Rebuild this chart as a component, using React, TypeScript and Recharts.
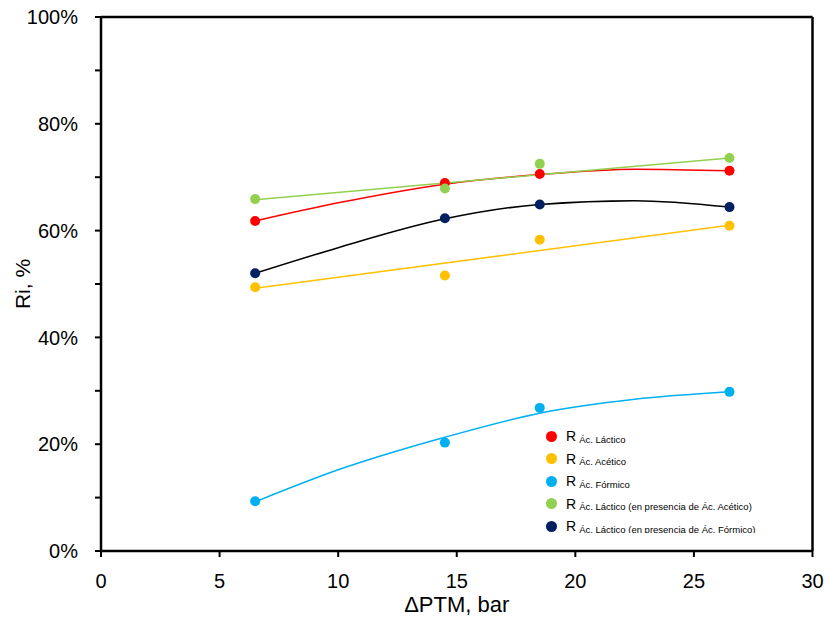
import React from 'react';
import { ComposedChart, Scatter, Line, XAxis, YAxis, ReferenceLine, Legend } from 'recharts';

const xValues = [6.5, 14.5, 18.5, 26.5];
const lacticoR = [61.8, 68.9, 70.6, 71.2];
const aceticoR = [49.4, 51.6, 58.3, 60.9];
const formicoR = [9.3, 20.3, 26.8, 29.8];
const lacticoAcetR = [65.9, 67.9, 72.5, 73.6];
const lacticoFormR = [52.0, 62.3, 64.9, 64.4];

const curveX = [6.5, 10, 14.5, 18.5, 22.5, 26.5];
const lacticoTrend = [61.8, 65.2, 68.7, 70.5, 71.5, 71.2];
const formicoTrend = [9.2, 15.2, 21.3, 25.8, 28.4, 29.8];
const lacticoFormTrend = [52.0, 56.8, 62.2, 64.9, 65.6, 64.4];
const lineX = [6.5, 26.5];
const aceticoTrend = [49.2, 61.0];
const lacticoAcetTrend = [65.8, 73.6];

const xTicks = [0, 5, 10, 15, 20, 25, 30];
const yTicks = [0, 10, 20, 30, 40, 50, 60, 70, 80, 90, 100];

const seriesNames = [
  'Ác. Láctico',
  'Ác. Acético',
  'Ác. Fórmico',
  'Ác. Láctico (en presencia de Ác. Acético)',
  'Ác. Láctico (en presencia de Ác. Fórmico)',
];
const seriesColors = ['#FF0000', '#FFC000', '#00B0F0', '#92D050', '#002060'];
const seriesValues = [lacticoR, aceticoR, formicoR, lacticoAcetR, lacticoFormR];

const toPoints = (xs: number[], ys: number[]) => xs.map((x, i) => ({ x, y: ys[i] }));

const FONT = '"Liberation Sans", Arial, sans-serif';

const dot = (color: string) => (props: any) => (
  <circle cx={props.cx} cy={props.cy} r={5} fill={color} />
);

const LegendContent = () => (
  <div style={{ fontFamily: FONT, color: '#000' }}>
    {seriesNames.map((n, i) => (
      <div key={n} style={{ display: 'flex', alignItems: 'center', height: 22.5, whiteSpace: 'nowrap' }}>
        <span
          style={{
            display: 'inline-block',
            width: 11,
            height: 11,
            borderRadius: '50%',
            background: seriesColors[i],
            marginLeft: 6,
            marginRight: 9,
          }}
        />
        <span style={{ fontSize: 14 }}>R</span>
        <span style={{ fontSize: 9.5, position: 'relative', top: 3, marginLeft: 3 }}>{n}</span>
      </div>
    ))}
  </div>
);

const YLabel = (props: any) => {
  const vb = props.viewBox || { x: 0, y: 17, width: 101, height: 534 };
  const cx = vb.x + 22;
  const cy = vb.y + vb.height / 2;
  return (
    <text
      x={cx}
      y={cy}
      transform={`rotate(-90 ${cx} ${cy})`}
      textAnchor="middle"
      dominantBaseline="central"
      fontFamily={FONT}
      fontSize={21}
      fill="#000"
    >
      Ri, %
    </text>
  );
};

export default function App() {
  return (
    <div style={{ position: 'absolute', left: 0, top: 0, width: 827, height: 619, background: '#fff' }}>
      <ComposedChart width={827} height={619} margin={{ top: 17, right: 14.5, bottom: 0, left: 0 }}>
        <XAxis
          type="number"
          dataKey="x"
          domain={[0, 30]}
          ticks={xTicks}
          allowDecimals
          axisLine={{ stroke: '#000', strokeWidth: 2.5 }}
          tickLine={{ stroke: '#000', strokeWidth: 2 }}
          tickSize={6}
          tickMargin={17}
          height={68}
          tick={{ fill: '#000', fontSize: 20, fontFamily: FONT }}
          label={{ value: 'ΔPTM, bar', position: 'insideBottom', offset: 7, fill: '#000', fontSize: 22, fontFamily: FONT }}
        />
        <YAxis
          type="number"
          dataKey="y"
          domain={[0, 100]}
          ticks={yTicks}
          interval={0}
          width={101}
          tickFormatter={(v: number) => (v % 20 === 0 ? `${v}%` : '')}
          axisLine={{ stroke: '#000', strokeWidth: 2.5 }}
          tickLine={{ stroke: '#000', strokeWidth: 2 }}
          tickSize={6}
          tickMargin={17}
          tick={{ fill: '#000', fontSize: 20, fontFamily: FONT }}
          label={{ content: YLabel }}
        />
        <ReferenceLine y={100} stroke="#000" strokeWidth={2.5} />
        <ReferenceLine x={30} stroke="#000" strokeWidth={2.5} />
        {seriesValues.map((vals, i) => (
          <Scatter
            key={seriesNames[i]}
            name={seriesNames[i]}
            data={toPoints(xValues, vals)}
            fill={seriesColors[i]}
            shape={dot(seriesColors[i])}
            isAnimationActive={false}
          />
        ))}
        <Line data={toPoints(curveX, lacticoTrend)} dataKey="y" type="monotone" stroke="#FF0000" strokeWidth={1.5} dot={false} activeDot={false} legendType="none" isAnimationActive={false} />
        <Line data={toPoints(lineX, aceticoTrend)} dataKey="y" type="linear" stroke="#FFC000" strokeWidth={1.5} dot={false} activeDot={false} legendType="none" isAnimationActive={false} />
        <Line data={toPoints(curveX, formicoTrend)} dataKey="y" type="monotone" stroke="#00B0F0" strokeWidth={1.5} dot={false} activeDot={false} legendType="none" isAnimationActive={false} />
        <Line data={toPoints(lineX, lacticoAcetTrend)} dataKey="y" type="linear" stroke="#92D050" strokeWidth={1.5} dot={false} activeDot={false} legendType="none" isAnimationActive={false} />
        <Line data={toPoints(curveX, lacticoFormTrend)} dataKey="y" type="monotone" stroke="#000000" strokeWidth={1.5} dot={false} activeDot={false} legendType="none" isAnimationActive={false} />
        <Legend
          layout="vertical"
          align="center"
          verticalAlign="middle"
          content={<LegendContent />}
          wrapperStyle={{ left: 540, top: 425, width: 272, height: 108, overflow: 'hidden' }}
        />
      </ComposedChart>
    </div>
  );
}
